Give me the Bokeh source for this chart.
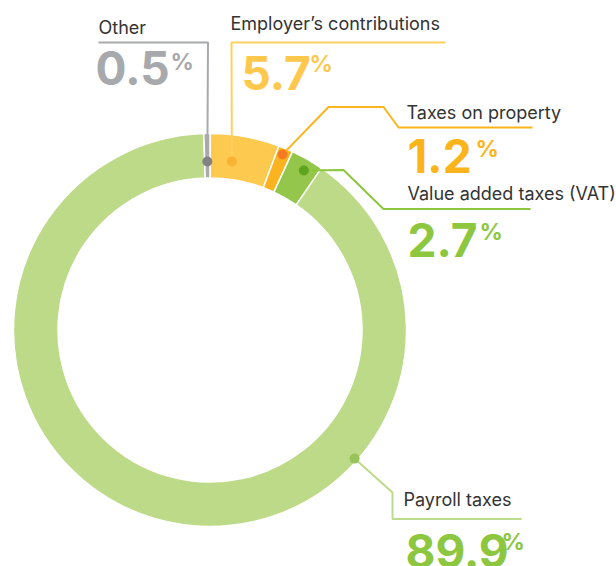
import math
from bokeh.plotting import figure
from bokeh.models import Range1d
from bokeh.core.properties import value
from bokeh.embed import file_html
from bokeh.resources import INLINE

# ---- data ----
categories = ["Employer’s contributions", "Taxes on property", "Value added taxes (VAT)", "Payroll taxes", "Other"]
shares = [5.7, 1.2, 2.7, 89.9, 0.5]
slice_colors = ["#fec94f", "#fbb41f", "#93c64a", "#bcda88", "#a7a9ac"]
dot_colors = ["#f9b233", "#f47b20", "#5ea51f", "#97c35a", "#808285"]
line_colors = ["#ffd15c", "#fbb41c", "#8dc63f", "#bcdb8a", "#a7a9ac"]
number_colors = ["#fec84d", "#fbb41c", "#8dc63f", "#8dc63f", "#a7a9ac"]

# ---- layout (screen pixel coordinates of the 616x566 page) ----
W, H = 616, 566
CX, CY = 209.5, 329.5
R_OUT, R_IN = 196.5, 152.0
LABEL_SHIFT, NUM_SHIFT, PCT_SHIFT = 7.5, 17.5, 8.5

def Y(ys):
    return H - ys

layout = {
    "Employer’s contributions": dict(frac=0.36, r=170, path=[(231, 42), (445, 42)],
                                      label=(230, 30), num=(241, 90), pct=(309, 71.5)),
    "Taxes on property": dict(frac=0.45, r=190, path=[(328, 106.5), (383, 106.5), (398, 127), (532, 127)],
                              label=(406, 119), num=(407, 173), pct=(475, 157)),
    "Value added taxes (VAT)": dict(frac=0.58, r=185, path=[(343, 169.5), (383, 208.5), (530, 208.5)],
                                    label=(407, 200), num=(407, 256.5), pct=(479, 240)),
    "Payroll taxes": dict(frac=0.30, r=193.5, path=[(392, 492), (392, 518.5), (521, 518.5)],
                          label=(403, 506.5), num=(405, 568), pct=(501, 550)),
    "Other": dict(frac=0.5, r=168.5, path=[(207.5, 42), (98, 42)],
                  label=(98, 34), num=(95, 85), pct=(170, 70)),
}

p = figure(width=W, height=H, output_backend="svg", toolbar_location=None,
           x_range=Range1d(0, W), y_range=Range1d(0, H), min_border=0)
p.axis.visible = False
p.grid.visible = False
p.outline_line_color = None
p.background_fill_color = "white"
p.border_fill_color = "white"

total = sum(shares)
cum = 0.0
starts, ends = [], []
for s in shares:
    starts.append(math.pi / 2 - 2 * math.pi * cum / total)
    cum += s
    ends.append(math.pi / 2 - 2 * math.pi * cum / total)

p.annular_wedge(x=[CX] * len(shares), y=[Y(CY)] * len(shares), inner_radius=R_IN, outer_radius=R_OUT,
                start_angle=starts, end_angle=ends, direction="clock",
                fill_color=slice_colors, line_color="white", line_width=1.5)

font = value("Inter")
for i, cat in enumerate(categories):
    L = layout[cat]
    ang = starts[i] + (ends[i] - starts[i]) * L["frac"]
    dx = CX + L["r"] * math.cos(ang)
    dy = Y(CY) + L["r"] * math.sin(ang)
    xs = [dx] + [pt[0] for pt in L["path"]]
    ys = [dy] + [Y(pt[1]) for pt in L["path"]]
    p.line(xs, ys, line_color=line_colors[i], line_width=2)
    p.scatter([dx], [dy], size=10, fill_color=dot_colors[i], line_color=None)
    p.text([L["label"][0]], [Y(L["label"][1] - LABEL_SHIFT)], text=[cat], text_font=font,
           text_font_size="18px", text_color="#333333", text_baseline="alphabetic", text_align="left")
    p.text([L["num"][0]], [Y(L["num"][1] - NUM_SHIFT)], text=[f"{shares[i]:.1f}"], text_font=font,
           text_font_size="46px", text_font_style="bold", text_color=number_colors[i],
           text_baseline="alphabetic", text_align="left")
    p.text([L["pct"][0]], [Y(L["pct"][1] - PCT_SHIFT)], text=["%"], text_font=font,
           text_font_size="23px", text_font_style="bold", text_color=number_colors[i],
           text_baseline="alphabetic", text_align="left")

open("out.html", "w").write(file_html(p, INLINE))
